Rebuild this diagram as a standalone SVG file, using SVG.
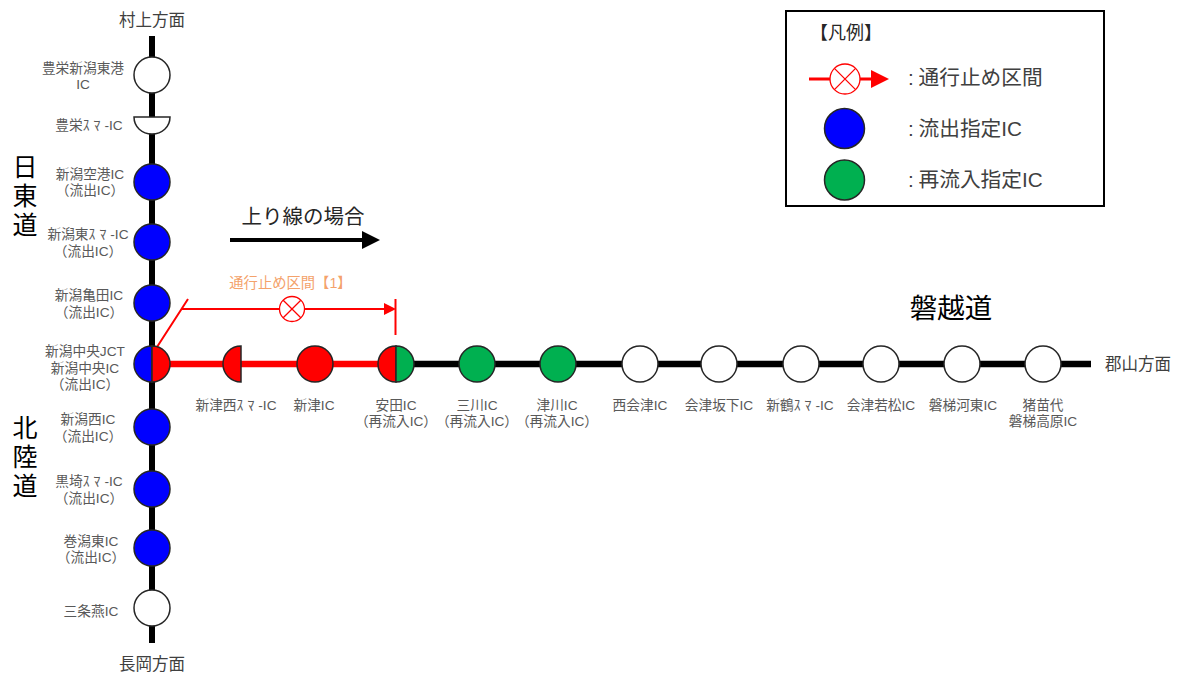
<svg xmlns="http://www.w3.org/2000/svg" width="1181" height="673" viewBox="0 0 1181 673">
<style>
text{font-family:"Liberation Sans","Noto Sans CJK JP",sans-serif;text-anchor:middle}
.l{font-size:13.7px;fill:#595959}
.s{letter-spacing:4px}
.d{font-size:16.5px;fill:#404040}
.h{font-size:25px;fill:#000}
.k{font-size:20.7px;fill:#404040;text-anchor:start}
.c{stroke:#262626;stroke-width:1.5}
.w{fill:#fff}.b{fill:#0000ff}.g{fill:#00b050}.r{fill:#ff0000}
.x{fill:#fff;stroke:#ff0000;stroke-width:1.3}
.xl{stroke:#ff0000;stroke-width:1.3;fill:none}
</style>
<rect width="1181" height="673" fill="#fff"/>
<g id="connectors">
<path d="M152 36V643" stroke="#000" stroke-width="6" fill="none"/>
<path d="M396 364H1091" stroke="#000" stroke-width="6.5" fill="none"/>
<path d="M170 364H396" stroke="#ff0000" stroke-width="6.5" fill="none"/>
<path d="M230 240H364" stroke="#000" stroke-width="4" fill="none"/>
<path d="M362 231L380 240L362 249Z" fill="#000"/>
<path d="M157 347L188 299M181 309H280M304 309H385" stroke="#ff0000" stroke-width="2" fill="none"/>
<path d="M384 303L396 309L384 315Z" fill="#ff0000"/>
<path d="M395.500 299V335" stroke="#ff0000" stroke-width="2" fill="none"/>
</g>
<g id="closure-mark"><circle cx="292" cy="309" r="12.5" class="x"/><path d="M283.200 300.200L300.800 317.800M300.800 300.200L283.200 317.800" class="xl"/></g>
<g id="n-toyosaka-port"><circle cx="152" cy="75" r="18" class="c w"/><text class="l"><tspan x="83" y="73">豊栄新潟東港</tspan><tspan x="83" y="89">IC</tspan></text></g>
<g id="n-toyosaka-sma"><path d="M134 117H170C170 127 162 134 152 134C142 134 134 127 134 117Z" class="c w"/><text class="l" x="89" y="130">豊栄<tspan class="s">ｽﾏ</tspan>-IC</text></g>
<g id="n-airport"><circle cx="152" cy="182" r="18" class="c b"/><text class="l"><tspan x="90" y="179">新潟空港IC</tspan><tspan x="90" y="195">（流出IC）</tspan></text></g>
<g id="n-higashi-sma"><circle cx="152" cy="242" r="18" class="c b"/><text class="l"><tspan x="88" y="239">新潟東<tspan class="s">ｽﾏ</tspan>-IC</tspan><tspan x="88" y="256">（流出IC）</tspan></text></g>
<g id="n-kameda"><circle cx="152" cy="303" r="18" class="c b"/><text class="l"><tspan x="89" y="300">新潟亀田IC</tspan><tspan x="89" y="317">（流出IC）</tspan></text></g>
<g id="n-chuo"><path d="M152 346A18 18 0 0 0 152 382Z" class="c b"/><path d="M152 346A18 18 0 0 1 152 382Z" class="c r"/><text class="l"><tspan x="85" y="356">新潟中央JCT</tspan><tspan x="85" y="373">新潟中央IC</tspan><tspan x="85" y="389">（流出IC）</tspan></text></g>
<g id="n-nishi"><circle cx="152" cy="427" r="18" class="c b"/><text class="l"><tspan x="88" y="424">新潟西IC</tspan><tspan x="88" y="441">（流出IC）</tspan></text></g>
<g id="n-kurosaki"><circle cx="152" cy="489" r="18" class="c b"/><text class="l"><tspan x="89" y="486">黒埼<tspan class="s">ｽﾏ</tspan>-IC</tspan><tspan x="89" y="503">（流出IC）</tspan></text></g>
<g id="n-maki"><circle cx="152" cy="548" r="18" class="c b"/><text class="l"><tspan x="91" y="546">巻潟東IC</tspan><tspan x="91" y="562">（流出IC）</tspan></text></g>
<g id="n-sanjo"><circle cx="152" cy="608" r="18" class="c w"/><text class="l" x="91" y="616">三条燕IC</text></g>
<g id="n-niitsu-nishi"><path d="M241 346V382A18 18 0 0 1 241 346Z" class="c r"/><text class="l" x="236" y="410">新津西<tspan class="s">ｽﾏ</tspan>-IC</text></g>
<g id="n-niitsu"><circle cx="315" cy="364" r="18" class="c r"/><text class="l" x="314" y="410">新津IC</text></g>
<g id="n-yasuda"><path d="M396 346A18 18 0 0 0 396 382Z" class="c r"/><path d="M396 346A18 18 0 0 1 396 382Z" class="c g"/><text class="l"><tspan x="396" y="410">安田IC</tspan><tspan x="396" y="426">（再流入IC）</tspan></text></g>
<g id="n-mikawa"><circle cx="477" cy="364" r="18" class="c g"/><text class="l"><tspan x="477" y="410">三川IC</tspan><tspan x="477" y="426">（再流入IC）</tspan></text></g>
<g id="n-tsugawa"><circle cx="558" cy="364" r="18" class="c g"/><text class="l"><tspan x="557" y="410">津川IC</tspan><tspan x="557" y="426">（再流入IC）</tspan></text></g>
<g id="n-nishiaizu"><circle cx="640" cy="364" r="18" class="c w"/><text class="l" x="640" y="410">西会津IC</text></g>
<g id="n-bange"><circle cx="719" cy="364" r="18" class="c w"/><text class="l" x="719" y="410">会津坂下IC</text></g>
<g id="n-niitsuru"><circle cx="801" cy="364" r="18" class="c w"/><text class="l" x="800" y="410">新鶴<tspan class="s">ｽﾏ</tspan>-IC</text></g>
<g id="n-wakamatsu"><circle cx="881" cy="364" r="18" class="c w"/><text class="l" x="881" y="410">会津若松IC</text></g>
<g id="n-kawahigashi"><circle cx="962" cy="364" r="18" class="c w"/><text class="l" x="963" y="410">磐梯河東IC</text></g>
<g id="n-inawashiro"><circle cx="1043" cy="364" r="18" class="c w"/><text class="l"><tspan x="1043" y="410">猪苗代</tspan><tspan x="1043" y="426">磐梯高原IC</tspan></text></g>
<g id="labels">
<text class="d" x="152" y="26">村上方面</text>
<text class="d" x="152" y="670">長岡方面</text>
<text class="d" x="1138" y="370">郡山方面</text>
<text class="h"><tspan x="25" y="176">日</tspan><tspan x="25" y="205">東</tspan><tspan x="25" y="234">道</tspan></text>
<text class="h"><tspan x="25" y="437">北</tspan><tspan x="25" y="466">陸</tspan><tspan x="25" y="495">道</tspan></text>
<text x="951" y="318" font-size="27.500" fill="#000">磐越道</text>
<text x="303" y="224" font-size="20.500" fill="#262626">上り線の場合</text>
<text x="290.500" y="288" font-size="14.300" fill="#f4a26b">通行止め区間【1】</text>
</g>
<g id="legend">
<rect x="786" y="11" width="318" height="195" fill="#fff" stroke="#000" stroke-width="2"/>
<text x="846" y="39" font-size="18" fill="#262626">【凡例】</text>
<path d="M809 79H830M860 79H872" stroke="#ff0000" stroke-width="3" fill="none"/>
<path d="M871 70L889 79L871 88Z" fill="#ff0000"/>
<circle cx="845" cy="79" r="15" class="x" stroke-width="1.500"/>
<path d="M834.400 68.400L855.600 89.600M855.600 68.400L834.400 89.600" class="xl"/>
<circle cx="844.500" cy="128.500" r="20" class="c b"/>
<circle cx="844.500" cy="180" r="20" class="c g"/>
<text class="k" x="908" y="85">:<tspan x="918.500">通行止め区間</tspan></text>
<text class="k" x="908" y="136">:<tspan x="918.500">流出指定IC</tspan></text>
<text class="k" x="908" y="187">:<tspan x="918.500">再流入指定IC</tspan></text>
</g>
</svg>
